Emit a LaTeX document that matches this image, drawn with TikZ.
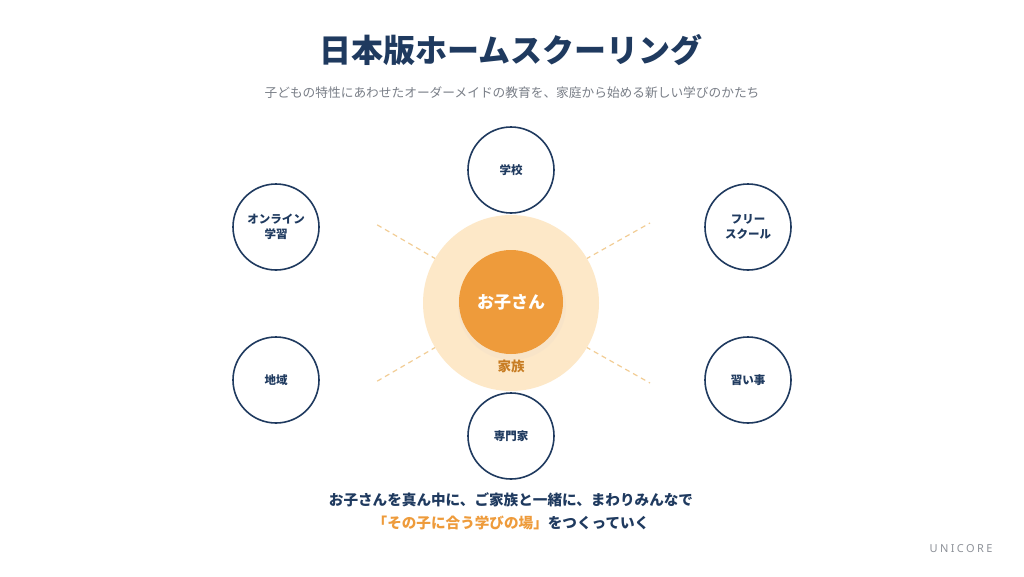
\documentclass[tikz,border=0pt]{standalone}
\usepackage{fontspec}
\setmainfont{Noto Sans CJK JP}
\newfontfamily\unifont{Noto Sans}[LetterSpace=22]
\definecolor{navy}{HTML}{1F3A5F}
\definecolor{orangemain}{HTML}{EE9B3B}
\definecolor{halo}{HTML}{FDE8C8}
\definecolor{famcol}{HTML}{C87D23}
\definecolor{subgray}{HTML}{7A7F88}
\definecolor{dashcol}{HTML}{F2CD95}
\definecolor{logogray}{HTML}{8E9299}
\tikzset{
  outer/.style={circle, draw=navy, line width=1.6pt, fill=white, minimum size=86pt, inner sep=0pt, align=center, text=navy, font=\fontsize{11.5}{15}\selectfont\bfseries},
  deco/.style={draw=dashcol, line width=1.2pt, dash pattern=on 5pt off 4pt},
}
\begin{document}
\begin{tikzpicture}[x=1pt,y=-1pt]
\fill[white] (0,0) rectangle (1024,576);
\useasboundingbox (0,0) rectangle (1024,576);
% dashed decorations
\coordinate (d1a) at (436,259); \coordinate (d1b) at (374,223);
\coordinate (d2a) at (586,259); \coordinate (d2b) at (650,223);
\coordinate (d3a) at (436,347); \coordinate (d3b) at (374,383);
\coordinate (d4a) at (586,347); \coordinate (d4b) at (650,383);
\draw[deco] (d1a) -- (d1b);
\draw[deco] (d2a) -- (d2b);
\draw[deco] (d3a) -- (d3b);
\draw[deco] (d4a) -- (d4b);
% family halo
\node[circle, fill=halo, minimum size=176pt, inner sep=0pt] (family) at (511,303) {};
\node[circle, fill=famcol!25, opacity=0.35, minimum size=108pt, inner sep=0pt] (shadow) at (512,306) {};
\node[circle, fill=orangemain, minimum size=104pt, inner sep=0pt, text=white, font=\fontsize{17}{20}\selectfont\bfseries] (child) at (511,302) {お子さん};
\node[text=famcol, font=\fontsize{13.5}{16}\selectfont\bfseries] (famlabel) at (511,366) {家族};
% outer circles
\node[outer] (school) at (511,170) {学校};
\node[outer] (online) at (276,227) {オンライン\\学習};
\node[outer] (free) at (748,227) {フリー\\スクール};
\node[outer] (region) at (276,380) {地域};
\node[outer] (lesson) at (748,380) {習い事};
\node[outer] (expert) at (511,436) {専門家};
% titles
\node[text=navy, font=\fontsize{32}{36}\selectfont\bfseries] (title) at (511,50) {日本版ホームスクーリング};
\node[text=subgray, font=\fontsize{12.7}{15}\selectfont] (subtitle) at (512,93) {子どもの特性にあわせたオーダーメイドの教育を、家庭から始める新しい学びのかたち};
\node[text=navy, font=\fontsize{14.6}{18}\selectfont\bfseries] (bottom1) at (511,500) {お子さんを真ん中に、ご家族と一緒に、まわりみんなで};
\node[text=navy, font=\fontsize{14.6}{18}\selectfont\bfseries] (bottom2) at (511,523) {\textcolor{orangemain}{「その子に合う学びの場」}をつくっていく};
\node[text=logogray, font=\unifont\fontsize{11}{13}\selectfont] (logo) at (961,549) {UNICORE};
\end{tikzpicture}
\end{document}
